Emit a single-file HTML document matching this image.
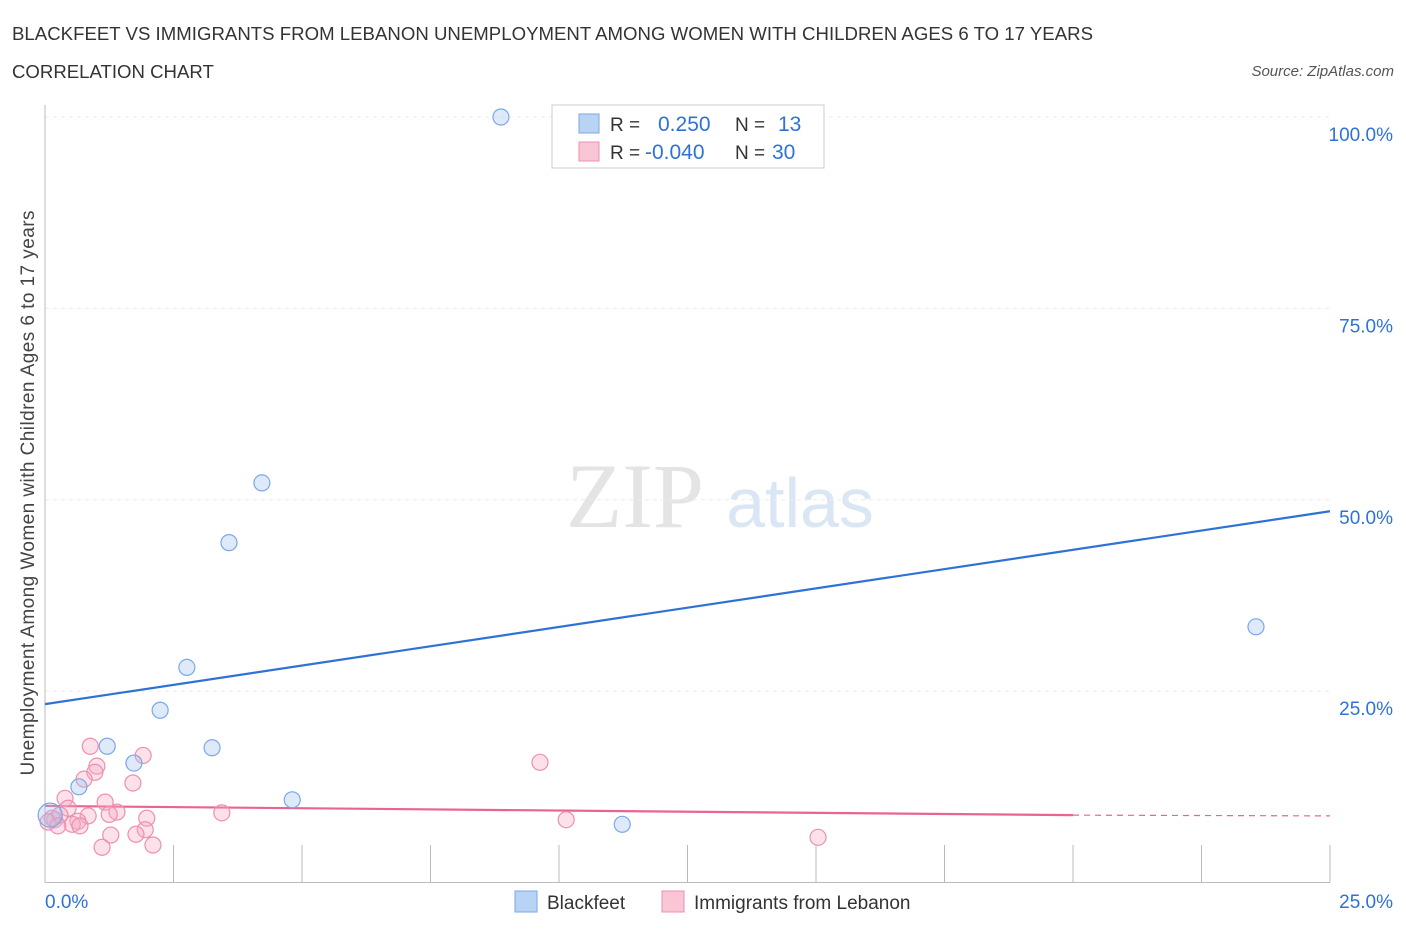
<!DOCTYPE html>
<html><head><meta charset="utf-8"><style>
body{margin:0;background:#fff;font-family:"Liberation Sans",sans-serif;}
</style></head><body>
<svg width="1406" height="930" xmlns="http://www.w3.org/2000/svg" id="chart" font-family="Liberation Sans, sans-serif">
<text x="12" y="40" font-size="18.6" fill="#333" textLength="1081">BLACKFEET VS IMMIGRANTS FROM LEBANON UNEMPLOYMENT AMONG WOMEN WITH CHILDREN AGES 6 TO 17 YEARS</text>
<text x="12" y="78" font-size="18.6" fill="#333">CORRELATION CHART</text>
<text x="1394" y="76" font-size="15" fill="#555" font-style="italic" text-anchor="end">Source: ZipAtlas.com</text>
<text x="635" y="527" font-size="92" fill="#e4e4e4" font-family="Liberation Serif, serif" text-anchor="middle">ZIP</text>
<text x="800" y="527" font-size="70" fill="#dbe6f5" text-anchor="middle">atlas</text>
<text x="34" y="493" font-size="19" fill="#444" text-anchor="middle" textLength="565" transform="rotate(-90 34 493)">Unemployment Among Women with Children Ages 6 to 17 years</text>
<g id="grid"></g><g id="axes"></g><g id="lines"></g><g id="pts"></g>
<g>
<rect x="552" y="105" width="272" height="63" fill="#fff" stroke="#ccc"/>
<rect x="579" y="114" width="20" height="19" fill="#b9d3f5" stroke="#7aa8e6"/>
<rect x="579" y="142" width="20" height="19" fill="#f8c6d5" stroke="#ee8fae"/>
<text x="610" y="131" font-size="19" fill="#333">R = </text><text x="658" y="131" font-size="21" fill="#2f72d6">0.250</text>
<text x="735" y="131" font-size="19" fill="#333">N = </text><text x="778" y="131" font-size="21" fill="#2f72d6">13</text>
<text x="610" y="159" font-size="19" fill="#333">R = </text><text x="645" y="159" font-size="21" fill="#2f72d6">-0.040</text>
<text x="735" y="159" font-size="19" fill="#333">N = </text><text x="772" y="159" font-size="21" fill="#2f72d6">30</text>
</g>
<g>
<rect x="515" y="891" width="22" height="21" fill="#b9d3f5" stroke="#7aa8e6"/>
<text x="547" y="909" font-size="19" fill="#333">Blackfeet</text>
<rect x="662" y="891" width="22" height="21" fill="#f8c6d5" stroke="#ee8fae"/>
<text x="694" y="909" font-size="19" fill="#333">Immigrants from Lebanon</text>
</g>
</svg>
<script>
const blackX=[8.87,4.22,3.58,2.76,2.24,3.25,1.21,1.73,0.66,4.81,11.23,23.56,0.1];
const blackY=[100,52.2,44.4,28.1,22.5,17.6,17.8,15.6,12.5,10.8,7.6,33.4,8.8];
const lebX=[0.88,1.91,1.01,0.97,0.76,1.71,0.39,1.17,0.45,1.40,1.25,0.84,3.44,1.98,0.64,0.53,0.68,0.19,0.14,1.95,1.28,1.77,1.11,2.10,9.63,10.14,15.04,0.29,0.06,0.25];
const lebY=[17.8,16.6,15.2,14.4,13.5,13.0,11.0,10.5,9.7,9.2,8.9,8.7,9.1,8.4,8.0,7.6,7.4,8.2,8.4,6.9,6.2,6.3,4.6,4.9,15.7,8.2,5.9,8.8,7.9,7.4];
const yTicks=[25,50,75,100];
const yTickLabels=["25.0%","50.0%","75.0%","100.0%"];
const blueTrend=[23.3,48.5];
const pinkTrend=[10.0,8.8,8.7];
const X0=45,X1=1330,Y0=882.5,Y1=117;
const sx=v=>X0+(v/25)*(X1-X0);
const sy=v=>Y0-(v/100)*(Y0-Y1);
const NS="http://www.w3.org/2000/svg";
function mk(t,a,p){const e=document.createElementNS(NS,t);for(const k in a)e.setAttribute(k,a[k]);document.getElementById(p).appendChild(e);return e;}
yTicks.forEach((v,i)=>{
 const l=mk('line',{x1:X0,x2:X1,y1:sy(v),y2:sy(v),stroke:'#ebebeb','stroke-dasharray':'4,4'},'grid');
 
 
 const t=mk('text',{x:1393,y:sy(v)+24,'font-size':19,fill:'#2f72d6','text-anchor':'end'},'grid');
 t.textContent=yTickLabels[i];
 
 
});
let a=mk('line',{x1:X0,x2:X0,y1:105,y2:Y0,stroke:'#bbb'},'axes');


a=mk('line',{x1:X0,x2:X1,y1:Y0,y2:Y0,stroke:'#bbb'},'axes');


for(let i=0;i<=10;i++){const x=sx(i*2.5);const t=mk('line',{x1:x,x2:x,y1:845,y2:Y0,stroke:'#bbb'},'axes');
 
 }
let t=mk('text',{x:45,y:908,'font-size':19,fill:'#2f72d6'},'axes');t.textContent='0.0%';


t=mk('text',{x:1393,y:908,'font-size':19,fill:'#2f72d6','text-anchor':'end'},'axes');t.textContent='25.0%';


lebX.forEach((x,i)=>{const c=mk('circle',{cx:sx(x),cy:sy(lebY[i]),r:8,fill:'rgba(246,170,195,0.35)',stroke:'#ee8fae','stroke-width':1.2},'pts');
 
 });
blackX.forEach((x,i)=>{const c=mk('circle',{cx:sx(x),cy:sy(blackY[i]),r:i==12?12:8,fill:'rgba(160,195,240,0.35)',stroke:'#7aa8e6','stroke-width':1.2},'pts');
 
 });
let l=mk('line',{x1:sx(0),y1:sy(blueTrend[0]),x2:sx(25),y2:sy(blueTrend[1]),stroke:'#2f72d6','stroke-width':2.2},'lines');


l=mk('line',{x1:sx(0),y1:sy(pinkTrend[0]),x2:sx(20),y2:sy(pinkTrend[1]),stroke:'#e8658f','stroke-width':2.2},'lines');


l=mk('line',{x1:sx(20),y1:sy(pinkTrend[1]),x2:sx(25),y2:sy(pinkTrend[2]),stroke:'#e8658f','stroke-width':1.2,'stroke-dasharray':'6,5'},'lines');


</script>
</body></html>
